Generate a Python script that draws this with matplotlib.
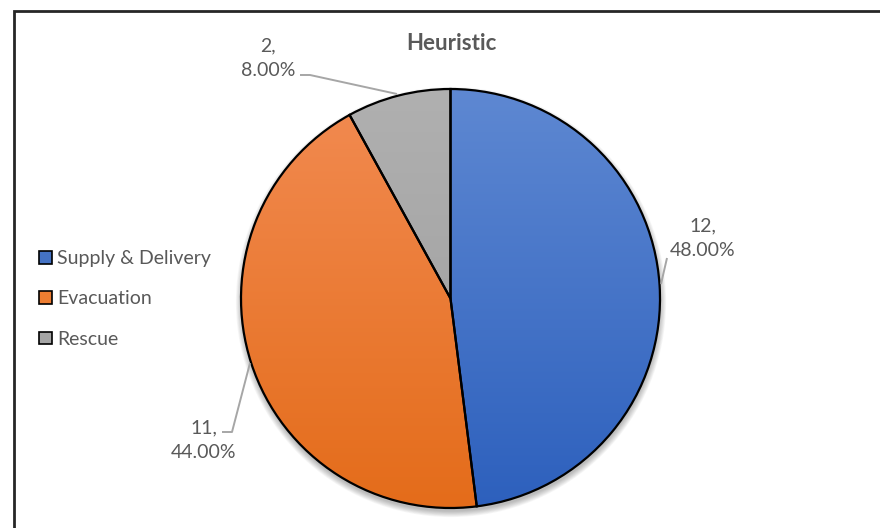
import numpy as np
import matplotlib
matplotlib.use("Agg")
import matplotlib.pyplot as plt
from matplotlib.colors import LinearSegmentedColormap
from matplotlib.patches import Patch, Circle, Wedge

# ---- data ----
title = "Heuristic"
categories = ["Supply & Delivery", "Evacuation", "Rescue"]
values = [12, 11, 2]
colors_top = ["#5e88d2", "#f28b52", "#b0b0b0"]
colors_bottom = ["#2d60bd", "#e46c1a", "#9c9c9c"]
legend_colors = ["#4472c4", "#ed7d31", "#a5a5a5"]

plt.rcParams['font.family'] = ['Lato', 'DejaVu Sans']
TXT = "#595959"

W, H = 880, 528
fig = plt.figure(figsize=(W / 100, H / 100), dpi=100)
ax = fig.add_axes([0, 0, 1, 1])

def Y(py):
    return H - py

cx, cy, r = 450.5, Y(298.5), 209.5

# soft shadow
for i in range(8):
    ax.add_patch(Circle((cx + 0.5, cy - 3.5), r + 0.8 * i, facecolor="black",
                        edgecolor="none", alpha=0.035, zorder=1))

wedges, _ = ax.pie(values, startangle=90, counterclock=False, center=(cx, cy),
                   radius=r, frame=True,
                   wedgeprops=dict(facecolor="none", edgecolor="black", linewidth=1.6))
for w in wedges:
    w.set_zorder(4)

grad = np.linspace(0, 1, 256).reshape(-1, 1)
for w, ct, cb in zip(wedges, colors_top, colors_bottom):
    cmap = LinearSegmentedColormap.from_list("g", [cb, ct])
    im = ax.imshow(grad, extent=(cx - r, cx + r, cy - r, cy + r), origin="lower",
                   cmap=cmap, aspect="auto", zorder=3, interpolation="bilinear")
    im.set_clip_path(w)
    ax.add_patch(Wedge((cx, cy), r, w.theta1, w.theta2,
                       facecolor="white", edgecolor="none", zorder=2))

total = sum(values)
labels = [f"{v},\n{v / total * 100:.2f}%" for v in values]
label_pos = [(703, 238), (204, 440), (268, 58)]
leaders = [
    [(661, 284), (667, 258)],
    [(250, 363), (232, 432), (222, 432)],
    [(397, 94), (310, 75), (300, 75)],
]
for txt, (px, py), ld in zip(labels, label_pos, leaders):
    ax.text(px, Y(py), txt, ha="center", va="center", fontsize=14, color=TXT,
            linespacing=1.5, zorder=6)
    xs = [p[0] for p in ld]
    ys = [Y(p[1]) for p in ld]
    ax.plot(xs, ys, color="#a6a6a6", lw=1.4, zorder=5, solid_capstyle="butt")

ax.text(451, Y(44), title, ha="center", va="center", fontsize=16,
        fontweight="bold", color=TXT)

handles = [Patch(facecolor=c, edgecolor="black", linewidth=1.2) for c in legend_colors]
leg = ax.legend(handles, categories, loc="center left",
                bbox_to_anchor=(39 / W, Y(299) / H), frameon=False,
                fontsize=14, labelcolor=TXT, handlelength=0.65, handleheight=0.65,
                handletextpad=0.28, labelspacing=1.2, borderpad=0, borderaxespad=0)

# border
ax.plot([14, 14, W + 5], [Y(H + 5), Y(10.5), Y(10.5)], color="#262626", lw=2,
        zorder=7, clip_on=False, solid_joinstyle="miter")

ax.set_xlim(0, W)
ax.set_ylim(0, H)
ax.set_aspect("equal")
ax.axis("off")
fig.savefig("out.png", dpi=100)
